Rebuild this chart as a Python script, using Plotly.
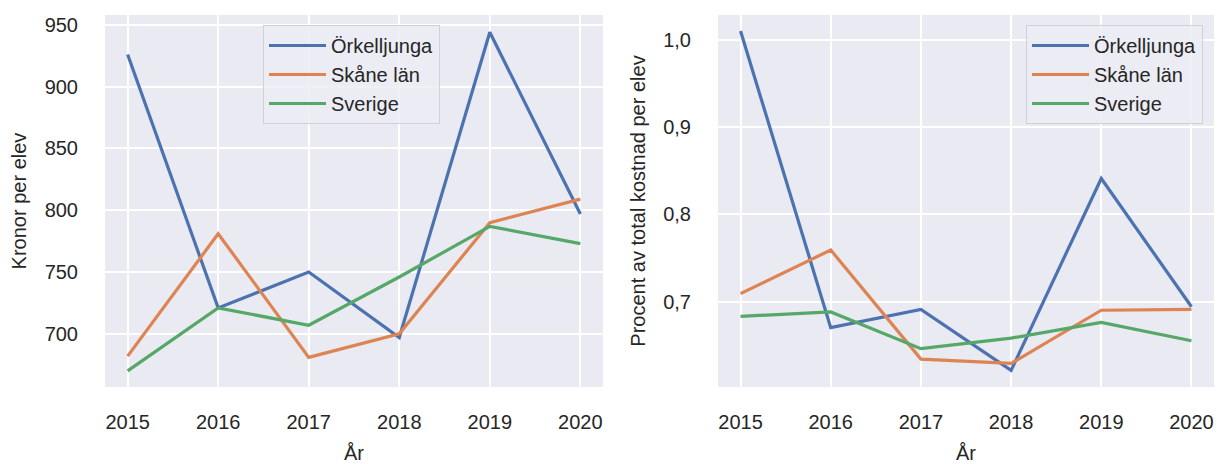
import plotly.graph_objects as go

years = [2015, 2016, 2017, 2018, 2019, 2020]
series_names = ["Örkelljunga", "Skåne län", "Sverige"]

kronor_orkelljunga = [926, 721, 750, 697, 944, 797]
kronor_skane = [682, 781, 681, 700, 790, 809]
kronor_sverige = [670, 721, 707, 746, 787, 773]

procent_orkelljunga = [1.010, 0.670, 0.691, 0.621, 0.841, 0.694]
procent_skane = [0.709, 0.759, 0.634, 0.629, 0.690, 0.691]
procent_sverige = [0.683, 0.688, 0.646, 0.658, 0.676, 0.655]

left_tickvals = [700, 750, 800, 850, 900, 950]
right_tickvals = [0.7, 0.8, 0.9, 1.0]

colors = ["#4C72B0", "#DD8452", "#55A868"]
FONT = "Liberation Sans, Arial, sans-serif"
TXT = "#262626"
BG = "#EAEAF2"

fig = go.Figure()
left = [kronor_orkelljunga, kronor_skane, kronor_sverige]
right = [procent_orkelljunga, procent_skane, procent_sverige]
for name, vals, c in zip(series_names, left, colors):
    fig.add_trace(go.Scatter(x=years, y=vals, name=name, mode="lines",
                             line=dict(color=c, width=3.2), xaxis="x", yaxis="y",
                             legend="legend"))
for name, vals, c in zip(series_names, right, colors):
    fig.add_trace(go.Scatter(x=years, y=vals, name=name, mode="lines",
                             line=dict(color=c, width=3.2), xaxis="x2", yaxis="y2",
                             legend="legend2"))

ydom = [1 - 387 / 464, 1 - 15 / 464]
axis_common = dict(showgrid=True, gridcolor="white", gridwidth=2, zeroline=False,
                   showline=False, ticks="outside", tickcolor="rgba(0,0,0,0)",
                   automargin=False,
                   tickfont=dict(family=FONT, size=20, color=TXT))
xr = [2015 - 0.25, 2020 + 0.25]
title_font = dict(family=FONT, size=20, color=TXT)

legend_common = dict(bgcolor="rgba(236,236,244,0.85)", bordercolor="#D0D0D8", borderwidth=1,
                     font=dict(family=FONT, size=20, color=TXT),
                     itemwidth=57,
                     xanchor="left", yanchor="top", tracegroupgap=0)

fig.update_layout(
    width=1217, height=464,
    margin=dict(l=0, r=0, t=0, b=0, autoexpand=False),
    paper_bgcolor="white", plot_bgcolor=BG,
    separators=", ",
    showlegend=True,
    xaxis=dict(domain=[105 / 1217, 603 / 1217], range=xr, tickvals=years, ticklen=17,
               title=dict(text="År", font=title_font, standoff=14),
               anchor="y", **axis_common),
    yaxis=dict(domain=ydom, range=[657, 958], tickvals=left_tickvals, ticklen=22,
               title=dict(text="Kronor per elev", font=title_font, standoff=12),
               anchor="x", **axis_common),
    xaxis2=dict(domain=[718 / 1217, 1214 / 1217], range=xr, tickvals=years, ticklen=17,
                title=dict(text="År", font=title_font, standoff=14),
                anchor="y2", **axis_common),
    yaxis2=dict(domain=ydom, range=[0.602, 1.0284], tickvals=right_tickvals, tickformat=".1f",
                ticklen=22,
                title=dict(text="Procent av total kostnad per elev", font=title_font, standoff=12),
                anchor="x2", **axis_common),
    legend=dict(x=263 / 1217, y=1 - 25 / 464, **legend_common),
    legend2=dict(x=1026 / 1217, y=1 - 25 / 464, **legend_common),
)

fig.write_html("out.html", config={"displayModeBar": False},
               post_script="document.body.style.margin='0';document.body.style.overflow='hidden';")
